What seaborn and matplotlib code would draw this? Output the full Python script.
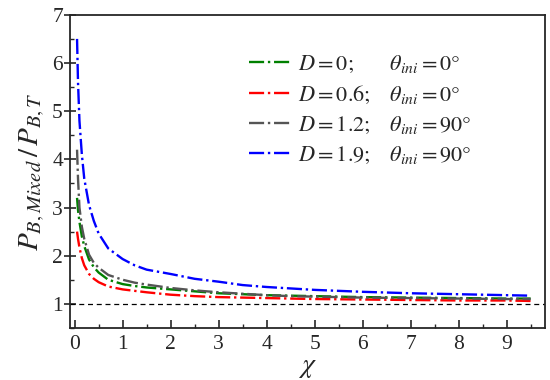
import matplotlib
matplotlib.use("Agg")
import matplotlib.pyplot as plt
import seaborn as sns
import pandas as pd
from matplotlib.ticker import MultipleLocator

# chi values
chi = [0.05, 0.07, 0.1, 0.15, 0.2, 0.3, 0.4, 0.5, 0.7, 1.0, 1.25, 1.5,
       2.0, 2.5, 3.0, 3.5, 4.0, 4.5, 5.0, 6.0, 7.0, 8.0, 9.0, 9.5]

# P_B,Mixed / P_B,T for each case
ratio_d0 = [3.20, 2.95, 2.70, 2.40, 2.20, 1.92, 1.76, 1.65, 1.50, 1.41, 1.37, 1.34,
            1.30, 1.26, 1.22, 1.20, 1.18, 1.17, 1.16, 1.14, 1.13, 1.12, 1.11, 1.11]
ratio_d06 = [2.50, 2.35, 2.17, 1.95, 1.80, 1.62, 1.52, 1.45, 1.36, 1.30, 1.27, 1.24,
             1.19, 1.16, 1.14, 1.13, 1.12, 1.11, 1.10, 1.09, 1.08, 1.07, 1.07, 1.06]
ratio_d12 = [4.20, 3.60, 3.00, 2.60, 2.35, 2.02, 1.85, 1.75, 1.60, 1.50, 1.44, 1.40,
             1.33, 1.28, 1.24, 1.21, 1.18, 1.16, 1.15, 1.13, 1.12, 1.11, 1.10, 1.10]
ratio_d19 = [6.50, 5.60, 4.80, 4.10, 3.60, 3.05, 2.72, 2.46, 2.15, 1.93, 1.80, 1.71,
             1.62, 1.52, 1.46, 1.39, 1.35, 1.32, 1.29, 1.25, 1.22, 1.20, 1.18, 1.17]

labels = [r"$D=0;$      $\theta_{ini}=0°$",
          r"$D=0.6;$   $\theta_{ini}=0°$",
          r"$D=1.2;$   $\theta_{ini}=90°$",
          r"$D=1.9;$   $\theta_{ini}=90°$"]
colors = ["#008000", "#ff0000", "#555555", "#0000ff"]

sns.set_style("ticks")
plt.rcParams["font.family"] = ["Liberation Serif", "DejaVu Serif"]
plt.rcParams["mathtext.fontset"] = "stix"

fig = plt.figure(figsize=(5.5, 3.8), dpi=100)
ax = fig.add_axes([0.127, 0.137, 0.864, 0.824])

for series, lab, col in zip([ratio_d0, ratio_d06, ratio_d12, ratio_d19], labels, colors):
    df = pd.DataFrame({"chi": chi, "ratio": series})
    sns.lineplot(data=df, x="chi", y="ratio", ax=ax, color=col, label=lab,
                 linestyle="-.", linewidth=1.7)

ax.axhline(1.0, color="black", linestyle="--", linewidth=0.9, dashes=(4, 3))

ax.set_xlim(-0.1, 9.8)
ax.set_ylim(0.5, 7)
ax.xaxis.set_major_locator(MultipleLocator(1))
ax.xaxis.set_minor_locator(MultipleLocator(0.5))
ax.yaxis.set_major_locator(MultipleLocator(1))
ax.yaxis.set_minor_locator(MultipleLocator(0.5))
ax.tick_params(axis="x", which="major", direction="in", length=6, width=1.2,
               labelsize=15.5, pad=5, top=False)
ax.tick_params(axis="x", which="minor", direction="in", length=3, width=1.0, top=False)
ax.tick_params(axis="y", which="major", direction="inout", length=8, width=1.2,
               labelsize=15.5, pad=1, right=False)
ax.tick_params(axis="y", which="minor", direction="in", length=3, width=1.0, right=False)
for s in ax.spines.values():
    s.set_linewidth(1.3)

ax.set_xlabel(r"$\chi$", fontsize=20, labelpad=1)
ax.set_ylabel(r"$P_{B,Mixed}\,/\,P_{B,T}$", fontsize=21, labelpad=4)

ax.legend(loc="upper left", bbox_to_anchor=(0.345, 0.925), frameon=False, fontsize=16,
          handlelength=1.9, handletextpad=0.3, labelspacing=0.4, borderpad=0.2)

fig.savefig("out.png", dpi=100)
